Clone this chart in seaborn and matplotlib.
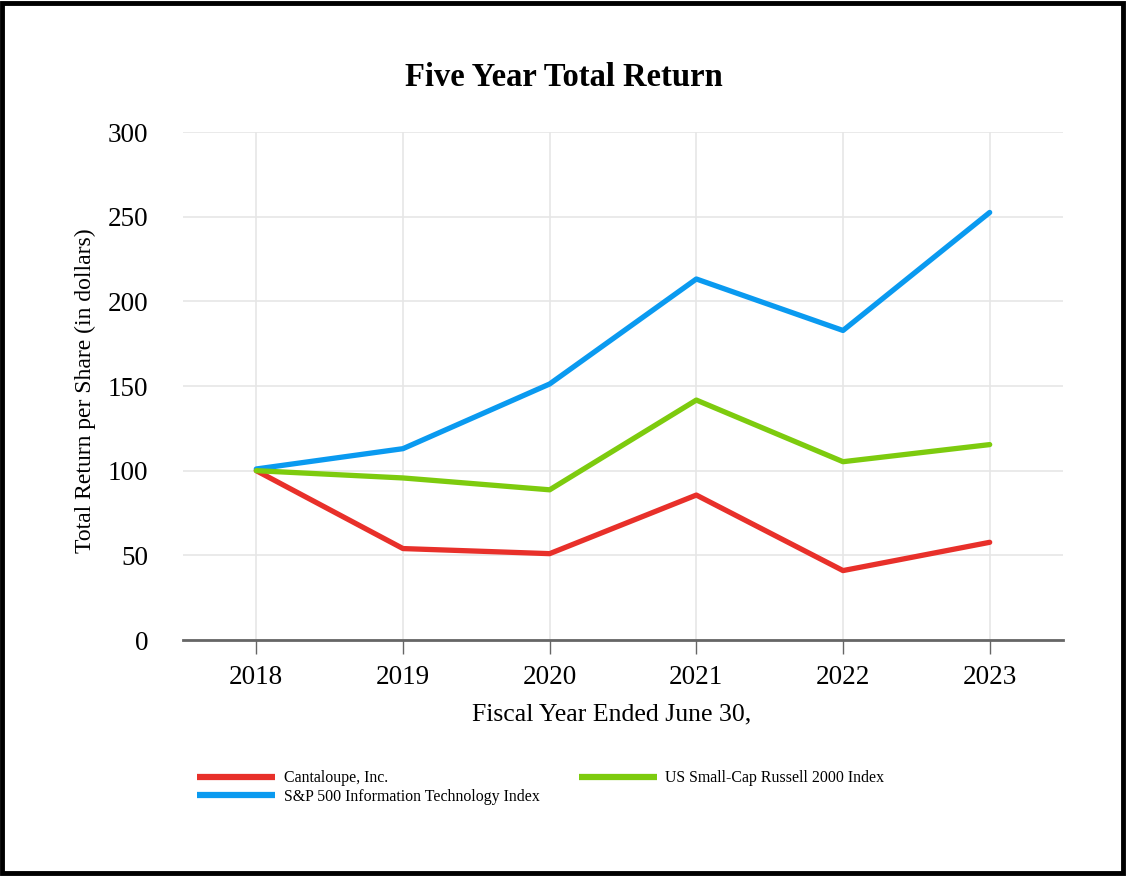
import matplotlib.pyplot as plt
import pandas as pd
import seaborn as sns
from matplotlib.patches import Rectangle

years = [2018, 2019, 2020, 2021, 2022, 2023]
cantaloupe = [100, 54, 51, 85.6, 41, 57.7]
sp500_it = [101, 113, 151.2, 213.2, 182.8, 252.5]
russell_2000 = [100, 95.7, 88.7, 141.7, 105.3, 115.4]

series_names = [
    "Cantaloupe, Inc.",
    "S&P 500 Information Technology Index",
    "US Small-Cap Russell 2000 Index",
]
colors = ["#E8302A", "#0A9AF0", "#7DCB0E"]

df = pd.DataFrame({
    "year": years * 3,
    "value": cantaloupe + sp500_it + russell_2000,
    "series": [n for n in series_names for _ in years],
})

sns.set_theme(style="whitegrid")
plt.rcParams["font.family"] = ["Liberation Serif", "DejaVu Serif"]
plt.rcParams["text.color"] = "black"
plt.rcParams["axes.labelcolor"] = "black"

fig = plt.figure(figsize=(11.28, 8.76), dpi=100)
ax = fig.add_axes([0.1622, 0.2694, 0.7802, 0.5799])

sns.lineplot(
    data=df, x="year", y="value", hue="series",
    palette=dict(zip(series_names, colors)),
    linewidth=3.8, ax=ax, legend=False,
)

ax.set_xlim(2017.5, 2023.5)
ax.set_ylim(0, 300)
ax.set_xticks(years)
ax.set_yticks(range(0, 301, 50))
ax.tick_params(axis="x", labelsize=19.5, colors="#666666", length=10, width=1,
               labelcolor="black", pad=8, bottom=True)
ax.tick_params(axis="y", labelsize=19.5, length=0, labelcolor="black", pad=25)
ax.grid(True, color="#e6e6e6", linewidth=1.2)
for side in ["left", "right", "top"]:
    ax.spines[side].set_visible(False)
ax.spines["bottom"].set_color("#666666")
ax.spines["bottom"].set_linewidth(2)

ax.set_xlabel("Fiscal Year Ended June 30,", fontsize=18.5)
ax.xaxis.set_label_coords(0.4875, -0.125)
ax.set_ylabel("")
fig.text(85 / 1128, 1 - 391 / 876, "Total Return per Share (in dollars)",
         rotation=90, ha="center", va="center", fontsize=17)

fig.text(0.5, 0.912, "Five Year Total Return", ha="center", va="center",
         fontsize=23.5, fontweight="bold")

handles = [plt.Line2D([], [], color=c, linewidth=4.5, solid_capstyle="butt") for c in colors]
fig.legend(handles, series_names, loc="upper left", bbox_to_anchor=(0.1693, 0.128),
           ncol=2, frameon=False, fontsize=11.4, handlelength=4.9, handletextpad=0.55,
           columnspacing=2.5, labelspacing=0.15, borderaxespad=0)

fig.patches.append(Rectangle((0.002, 0.003), 0.994, 0.994, transform=fig.transFigure,
                             fill=False, edgecolor="black", linewidth=3.5))

fig.savefig("out.png", dpi=100)
